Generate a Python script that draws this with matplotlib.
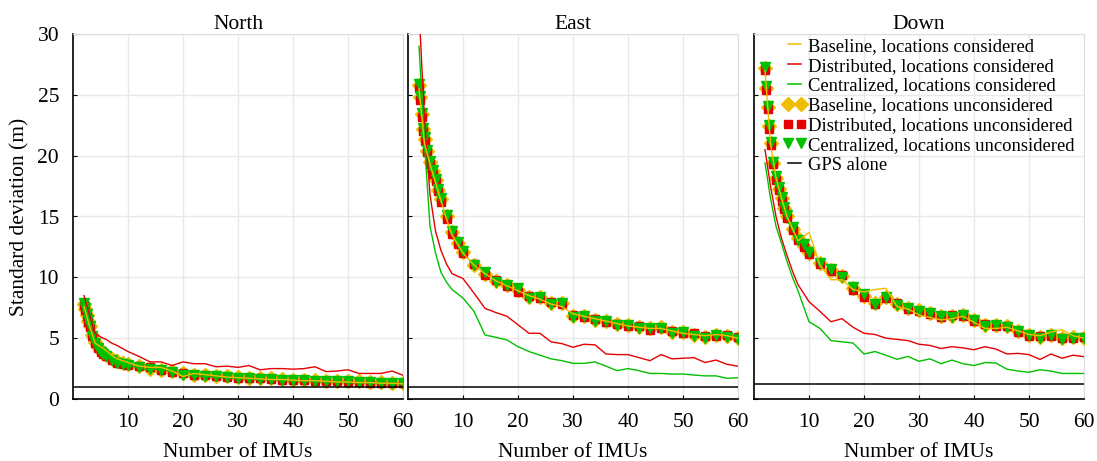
import matplotlib
matplotlib.use("Agg")
import matplotlib.pyplot as plt
from matplotlib.lines import Line2D

plt.rcParams["font.family"] = ["Liberation Serif", "DejaVu Serif"]

# x positions of the sampled curves
x_ln = [2, 3, 4, 5, 6, 7, 8] + list(range(10, 61, 2))
x_mk = [2, 2.25, 2.5, 2.75, 3, 3.5, 4, 4.5, 5, 5.5, 6, 7, 8, 9, 10] + list(range(12, 61, 2))

panels = ["North", "East", "Down"]

# --- North ---
north_base_cons = [7.6, 6.0, 4.6, 4.3, 4.0, 3.6, 3.3, 3.0, 2.7, 2.6, 2.6, 2.3, 1.85, 2.1, 2.0, 1.9, 1.8,
                   1.75, 1.7, 1.65, 1.6, 1.6, 1.55, 1.5, 1.5, 1.45, 1.4, 1.4, 1.35, 1.35, 1.3, 1.3, 1.25]
north_dist_cons = [8.5, 6.9, 5.4, 5.1, 4.9, 4.6, 4.4, 3.9, 3.5, 3.05, 3.05, 2.75, 3.05, 2.9, 2.9, 2.65, 2.7,
                   2.6, 2.75, 2.4, 2.5, 2.5, 2.45, 2.5, 2.65, 2.25, 2.3, 2.4, 2.1, 2.1, 2.1, 2.3, 1.95]
north_cent_cons = [7.8, 6.0, 4.3, 3.9, 3.7, 3.4, 3.2, 2.8, 2.55, 2.35, 2.55, 2.2, 1.95, 1.9, 1.85, 1.8, 1.75,
                   1.7, 1.65, 1.6, 1.6, 1.55, 1.5, 1.5, 1.45, 1.4, 1.4, 1.35, 1.35, 1.3, 1.3, 1.25, 1.25]
north_base_unc = [7.8, 7.4, 6.9, 6.4, 6.0, 5.3, 4.7, 4.3, 4.0, 3.8, 3.6, 3.3, 3.1, 3.0, 2.9,
                  2.7, 2.5, 2.4, 2.3, 2.1, 2.0, 2.0, 1.9, 1.85, 1.8, 1.75, 1.7, 1.7, 1.65, 1.6,
                  1.6, 1.55, 1.5, 1.5, 1.45, 1.45, 1.4, 1.4, 1.35, 1.3]
north_dist_unc = [7.7, 7.3, 6.8, 6.3, 5.9, 5.2, 4.6, 4.2, 3.9, 3.7, 3.5, 3.2, 3.0, 2.9, 2.8,
                  2.7, 2.6, 2.4, 2.2, 2.1, 2.0, 1.95, 1.9, 1.8, 1.75, 1.7, 1.7, 1.65, 1.6, 1.55,
                  1.55, 1.5, 1.5, 1.45, 1.4, 1.4, 1.35, 1.35, 1.3, 1.3]
north_cent_unc = [7.9, 7.5, 7.0, 6.5, 6.0, 5.2, 4.6, 4.2, 3.9, 3.7, 3.5, 3.2, 3.0, 2.9, 2.8,
                  2.6, 2.5, 2.4, 2.2, 2.0, 1.95, 1.9, 1.85, 1.8, 1.75, 1.7, 1.65, 1.65, 1.6, 1.55,
                  1.55, 1.5, 1.5, 1.45, 1.45, 1.4, 1.4, 1.35, 1.35, 1.3]
north_gps = 1.0

# --- East ---
east_base_cons = [25.5, 21.0, 19.3, 17.8, 16.3, 14.8, 13.5, 12.0, 11.0, 10.3, 9.7, 9.3, 8.9, 8.5, 8.2, 7.8, 7.6,
                  7.0, 6.8, 6.6, 6.4, 6.2, 6.0, 5.9, 5.8, 5.8, 5.6, 5.4, 5.3, 5.2, 5.3, 5.2, 5.0]
east_dist_cons = [32.0, 23.0, 16.8, 13.8, 12.2, 11.1, 10.3, 9.9, 8.7, 7.45, 7.1, 6.8, 6.1, 5.4, 5.4, 4.7, 4.55,
                  4.25, 4.5, 4.45, 3.7, 3.65, 3.65, 3.4, 3.15, 3.65, 3.3, 3.35, 3.4, 3.0, 3.2, 2.85, 2.7]
east_cent_cons = [29.0, 21.0, 14.2, 12.0, 10.4, 9.6, 9.0, 8.3, 7.2, 5.26, 5.07, 4.85, 4.3, 3.9, 3.6, 3.3, 3.15,
                  2.93, 2.93, 3.05, 2.7, 2.33, 2.5, 2.33, 2.1, 2.1, 2.05, 2.05, 1.97, 1.9, 1.9, 1.7, 1.75]
east_base_unc = [25.8, 24.8, 23.4, 22.2, 21.4, 20.4, 19.5, 18.7, 18.0, 17.2, 16.4, 15.0, 13.7, 12.8, 12.1,
                 11.0, 10.3, 9.7, 9.4, 9.0, 8.4, 8.4, 7.9, 7.9, 6.8, 6.8, 6.5, 6.4, 6.2, 6.1,
                 5.9, 5.8, 5.9, 5.5, 5.5, 5.3, 5.1, 5.3, 5.2, 5.0]
east_dist_unc = [25.6, 24.6, 23.2, 22.0, 21.2, 20.3, 19.3, 18.5, 17.9, 17.1, 16.2, 14.8, 13.6, 12.7, 12.0,
                 11.1, 10.2, 9.8, 9.3, 8.8, 8.5, 8.3, 8.0, 7.8, 6.9, 6.7, 6.6, 6.3, 6.2, 6.0,
                 6.0, 5.7, 5.8, 5.6, 5.4, 5.4, 5.2, 5.2, 5.3, 5.1]
east_cent_unc = [25.9, 24.9, 23.5, 22.3, 21.5, 20.5, 19.6, 18.8, 18.1, 17.3, 16.5, 15.1, 13.8, 12.9, 12.2,
                 11.0, 10.4, 9.6, 9.4, 9.1, 8.3, 8.4, 7.8, 7.9, 6.7, 6.8, 6.4, 6.4, 6.1, 6.1,
                 5.8, 5.8, 5.8, 5.4, 5.5, 5.2, 5.0, 5.3, 5.1, 4.9]
east_gps = 1.0

# --- Down ---
down_base_cons = [27.0, 21.0, 18.2, 16.5, 15.0, 14.0, 13.0, 13.7, 11.0, 9.8, 9.8, 9.0, 8.8, 9.0, 9.1, 7.6, 7.4,
                  6.9, 6.7, 6.5, 6.6, 6.8, 6.3, 5.8, 5.8, 5.9, 5.6, 5.3, 5.2, 5.5, 5.7, 5.2, 5.0]
down_dist_cons = [20.5, 17.5, 15.0, 13.2, 11.8, 10.5, 9.4, 8.0, 7.2, 6.35, 6.6, 5.9, 5.4, 5.3, 5.0, 4.9, 4.8,
                  4.5, 4.4, 4.15, 4.3, 4.2, 4.05, 4.3, 4.1, 3.7, 3.75, 3.65, 3.25, 3.7, 3.35, 3.6, 3.48]
down_cent_cons = [19.4, 16.5, 14.2, 12.8, 11.3, 10.0, 8.9, 6.35, 5.8, 4.8, 4.7, 4.6, 3.7, 3.9, 3.6, 3.26, 3.5,
                  3.1, 3.3, 2.9, 3.2, 2.9, 2.75, 3.0, 2.95, 2.45, 2.3, 2.2, 2.4, 2.3, 2.1, 2.1, 2.1]
down_base_unc = [27.2, 25.6, 24.0, 22.4, 21.0, 19.4, 18.2, 17.3, 16.5, 15.7, 15.0, 14.0, 13.2, 12.6, 12.0,
                 11.2, 10.6, 10.1, 9.1, 8.5, 7.9, 8.4, 7.8, 7.5, 7.3, 7.1, 6.8, 6.8, 6.9, 6.5,
                 6.1, 6.1, 6.0, 5.6, 5.3, 5.1, 5.3, 5.0, 5.1, 5.0]
down_dist_unc = [27.0, 25.4, 23.8, 22.2, 20.9, 19.3, 18.0, 17.2, 16.3, 15.6, 14.9, 13.9, 13.1, 12.5, 11.9,
                 11.1, 10.5, 10.2, 9.0, 8.4, 7.8, 8.3, 7.9, 7.4, 7.2, 7.0, 6.7, 6.9, 6.8, 6.4,
                 6.2, 6.0, 6.0, 5.5, 5.2, 5.2, 5.2, 5.0, 5.0, 5.1]
down_cent_unc = [27.3, 25.7, 24.1, 22.5, 21.1, 19.5, 18.3, 17.4, 16.6, 15.8, 15.1, 14.1, 13.1, 12.7, 12.1,
                 11.2, 10.7, 10.0, 9.2, 8.6, 7.8, 8.4, 7.7, 7.5, 7.2, 7.1, 6.8, 6.7, 6.9, 6.5,
                 6.0, 6.1, 5.9, 5.6, 5.3, 5.0, 5.3, 4.9, 5.0, 5.0]
down_gps = 1.2

data = {
    "North": (north_base_cons, north_dist_cons, north_cent_cons,
              north_base_unc, north_dist_unc, north_cent_unc, north_gps),
    "East": (east_base_cons, east_dist_cons, east_cent_cons,
             east_base_unc, east_dist_unc, east_cent_unc, east_gps),
    "Down": (down_base_cons, down_dist_cons, down_cent_cons,
             down_base_unc, down_dist_unc, down_cent_unc, down_gps),
}

labels = ["Baseline, locations considered", "Distributed, locations considered",
          "Centralized, locations considered", "Baseline, locations unconsidered",
          "Distributed, locations unconsidered", "Centralized, locations unconsidered",
          "GPS alone"]

YEL = "#F0BE00"
RED = "#E60000"
GRN = "#00C000"
FS = 15.5

fig = plt.figure(figsize=(10.97, 4.61), dpi=100)
lefts = [73, 408, 754]
W, H = 1097, 461

for name, left in zip(panels, lefts):
    ax = fig.add_axes([left / W, 62 / H, 330 / W, 365 / H])
    bc, dc, cc, bu, du, cu, gps = data[name]

    ax.plot(x_mk, bu, ls="none", marker="D", ms=7.5, color=YEL, mec=YEL, zorder=3)
    ax.plot(x_mk, du, ls="none", marker="s", ms=6, color=RED, mec=RED, zorder=4)
    ax.plot(x_mk, cu, ls="none", marker="v", ms=7.5, color=GRN, mec=GRN, zorder=5)
    ax.plot(x_ln, dc, color=RED, lw=1.0, zorder=6)
    ax.plot(x_ln, cc, color=GRN, lw=1.0, zorder=6)
    ax.plot(x_ln, bc, color=YEL, lw=1.0, zorder=7)
    ax.axhline(gps, color="black", lw=1.1, zorder=6)

    ax.set_xlim(0, 60)
    ax.set_ylim(0, 30)
    ax.set_xticks(range(10, 61, 10))
    ax.set_yticks(range(0, 31, 5))
    ax.grid(True, color="#e8e8e8", lw=1)
    ax.set_axisbelow(True)
    ax.tick_params(direction="in", length=3, labelsize=FS, colors="black", pad=10)
    for s in ["top", "right"]:
        ax.spines[s].set_color("#dddddd")
    for s in ["left", "bottom"]:
        ax.spines[s].set_color("black")
        ax.spines[s].set_linewidth(1.2)
    ax.set_title(name, fontsize=FS, pad=3)
    ax.set_xlabel("Number of IMUs", fontsize=FS, labelpad=8)
    if name == "North":
        ax.set_ylabel("Standard deviation (m)", fontsize=FS, labelpad=6)
    else:
        ax.tick_params(labelleft=False)

    if name == "Down":
        handles = [
            Line2D([], [], color=YEL, lw=1.1),
            Line2D([], [], color=RED, lw=1.1),
            Line2D([], [], color=GRN, lw=1.1),
            Line2D([], [], ls="none", marker="D", ms=7.5, color=YEL),
            Line2D([], [], ls="none", marker="s", ms=6, color=RED),
            Line2D([], [], ls="none", marker="v", ms=7.5, color=GRN),
            Line2D([], [], color="black", lw=1.1),
        ]
        ax.legend(handles, labels, loc="upper right", frameon=False, fontsize=13.4,
                  handlelength=1.3, handletextpad=0.1, labelspacing=0.15,
                  numpoints=2, borderaxespad=0.1, bbox_to_anchor=(1.0, 1.015))

fig.savefig("out.png", dpi=100)
